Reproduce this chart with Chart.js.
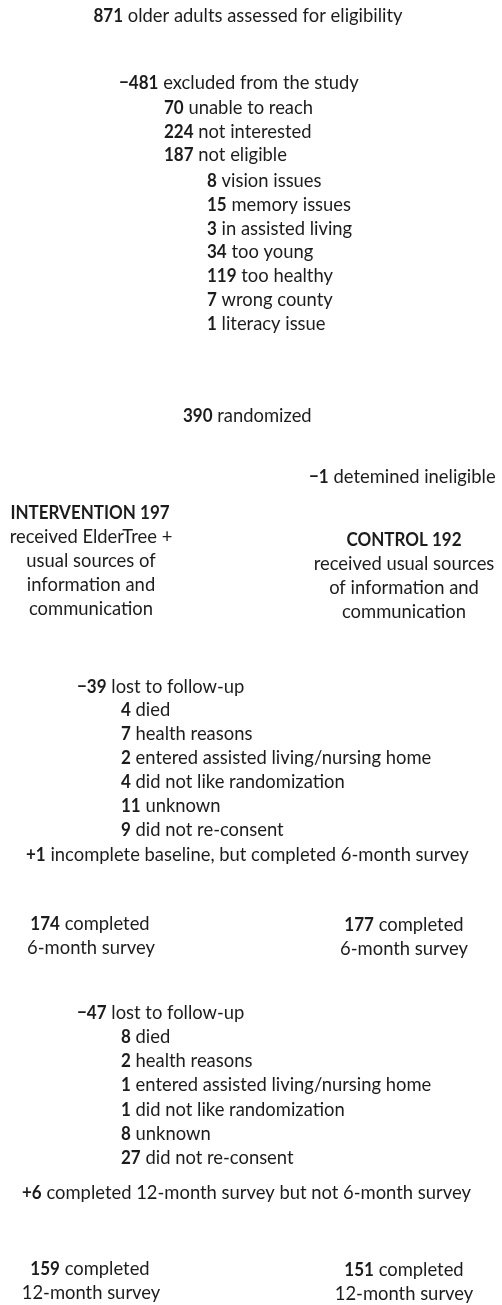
<!DOCTYPE html>
<html>
<head>
<meta charset="utf-8">
<script src="https://cdn.jsdelivr.net/npm/chart.js@4/dist/chart.umd.min.js"></script>
<style>
html,body{margin:0;padding:0;background:#fff;}
#wrap{width:502px;height:1305px;}
</style>
</head>
<body>
<div id="wrap"><canvas id="c" width="502" height="1305"></canvas></div>
<script>
// ---- data ----
const assessedCount = 871;
const excludedCount = 481;
const excludedReasons = ['unable to reach', 'not interested', 'not eligible'];
const excludedCounts = [70, 224, 187];
const ineligibleReasons = ['vision issues', 'memory issues', 'in assisted living', 'too young', 'too healthy', 'wrong county', 'literacy issue'];
const ineligibleCounts = [8, 15, 3, 34, 119, 7, 1];
const randomizedCount = 390;
const postRandomIneligible = 1;
const armNames = ['INTERVENTION', 'CONTROL'];
const armCounts = [197, 192];
const lossReasons = ['died', 'health reasons', 'entered assisted living/nursing home', 'did not like randomization', 'unknown', 'did not re-consent'];
const lost6Total = 39;
const lost6Counts = [4, 7, 2, 4, 11, 9];
const added6 = 1;
const completed6 = [174, 177];
const lost12Total = 47;
const lost12Counts = [8, 2, 1, 1, 8, 27];
const added12 = 6;
const completed12 = [159, 151];

// ---- layout (x, y in canvas units; align) ----
const MINUS = '\u2212';
const items = [];
function add(x, y, align, runs){ items.push({x, y, align, runs}); }
const B = t => ({t: String(t), b: true});
const R = t => ({t: t, b: false});

add(248, 16, 'center', [B(assessedCount), R(' older adults assessed for eligibility')]);
add(119, 83, 'left', [B(MINUS + excludedCount), R(' excluded from the study')]);
excludedReasons.forEach((r, i) => add(164, 108 + i * 23.6, 'left', [B(excludedCounts[i]), R(' ' + r)]));
ineligibleReasons.forEach((r, i) => add(207, 181 + i * 23.8, 'left', [B(ineligibleCounts[i]), R(' ' + r)]));
add(183, 416, 'left', [B(randomizedCount), R(' randomized')]);
add(309, 477, 'left', [B(MINUS + postRandomIneligible), R(' detemined ineligible')]);
add(90, 513, 'center', [B(armNames[0] + ' ' + armCounts[0])]);
['received ElderTree +', 'usual sources of', 'information and', 'communication'].forEach((t, i) => add(91, 537 + i * 24, 'center', [R(t)]));
add(404, 540, 'center', [B(armNames[1] + ' ' + armCounts[1])]);
['received usual sources', 'of information and', 'communication'].forEach((t, i) => add(404, 564 + i * 24, 'center', [R(t)]));
add(77, 687, 'left', [B(MINUS + lost6Total), R(' lost to follow-up')]);
lossReasons.forEach((r, i) => add(121, 710 + i * 24, 'left', [B(lost6Counts[i]), R(' ' + r)]));
add(26, 855, 'left', [B('+' + added6), R(' incomplete baseline, but completed 6-month survey')]);
add(90, 924, 'center', [B(completed6[0]), R(' completed')]);
add(91, 948, 'center', [R('6-month survey')]);
add(404, 925, 'center', [B(completed6[1]), R(' completed')]);
add(404, 949, 'center', [R('6-month survey')]);
add(77, 1013, 'left', [B(MINUS + lost12Total), R(' lost to follow-up')]);
lossReasons.forEach((r, i) => add(121, 1037 + i * 24.2, 'left', [B(lost12Counts[i]), R(' ' + r)]));
add(22, 1193, 'left', [B('+' + added12), R(' completed 12-month survey but not 6-month survey')]);
add(90, 1269, 'center', [B(completed12[0]), R(' completed')]);
add(91, 1293, 'center', [R('12-month survey')]);
add(404, 1270, 'center', [B(completed12[1]), R(' completed')]);
add(404, 1294, 'center', [R('12-month survey')]);

const FONT = 'Lato';
const SIZE = 18.4;
const BOLD_SQUEEZE = 0.925;
const COLOR = '#1c1c1c';

const textPlugin = {
  id: 'flowText',
  afterDatasetsDraw(chart) {
    const ctx = chart.ctx;
    const meta = chart.getDatasetMeta(0);
    ctx.save();
    ctx.fillStyle = COLOR;
    ctx.textBaseline = 'middle';
    ctx.textAlign = 'left';
    meta.data.forEach((pt, idx) => {
      const it = items[idx];
      const px = pt.x, py = pt.y;
      const widths = it.runs.map(r => {
        ctx.font = (r.b ? 'bold ' : '') + SIZE + 'px ' + FONT;
        return ctx.measureText(r.t).width * (r.b ? BOLD_SQUEEZE : 1);
      });
      const total = widths.reduce((a, b) => a + b, 0);
      let x = it.align === 'center' ? px - total / 2 : px;
      it.runs.forEach((r, k) => {
        ctx.font = (r.b ? 'bold ' : '') + SIZE + 'px ' + FONT;
        if (r.b) {
          ctx.save();
          ctx.translate(x, py);
          ctx.scale(BOLD_SQUEEZE, 1);
          ctx.fillText(r.t, 0, 0);
          ctx.restore();
        } else {
          ctx.fillText(r.t, x, py);
        }
        x += widths[k];
      });
    });
    ctx.restore();
  }
};

new Chart(document.getElementById('c'), {
  type: 'scatter',
  data: {
    datasets: [{
      data: items.map(it => ({x: it.x, y: it.y})),
      pointRadius: 0,
      pointHoverRadius: 0
    }]
  },
  options: {
    responsive: false,
    animation: false,
    events: [],
    layout: {padding: 0},
    plugins: {legend: {display: false}, tooltip: {enabled: false}},
    scales: {
      x: {type: 'linear', min: 0, max: 502, display: false},
      y: {type: 'linear', min: 0, max: 1305, reverse: true, display: false}
    }
  },
  plugins: [textPlugin]
});
</script>
</body>
</html>
